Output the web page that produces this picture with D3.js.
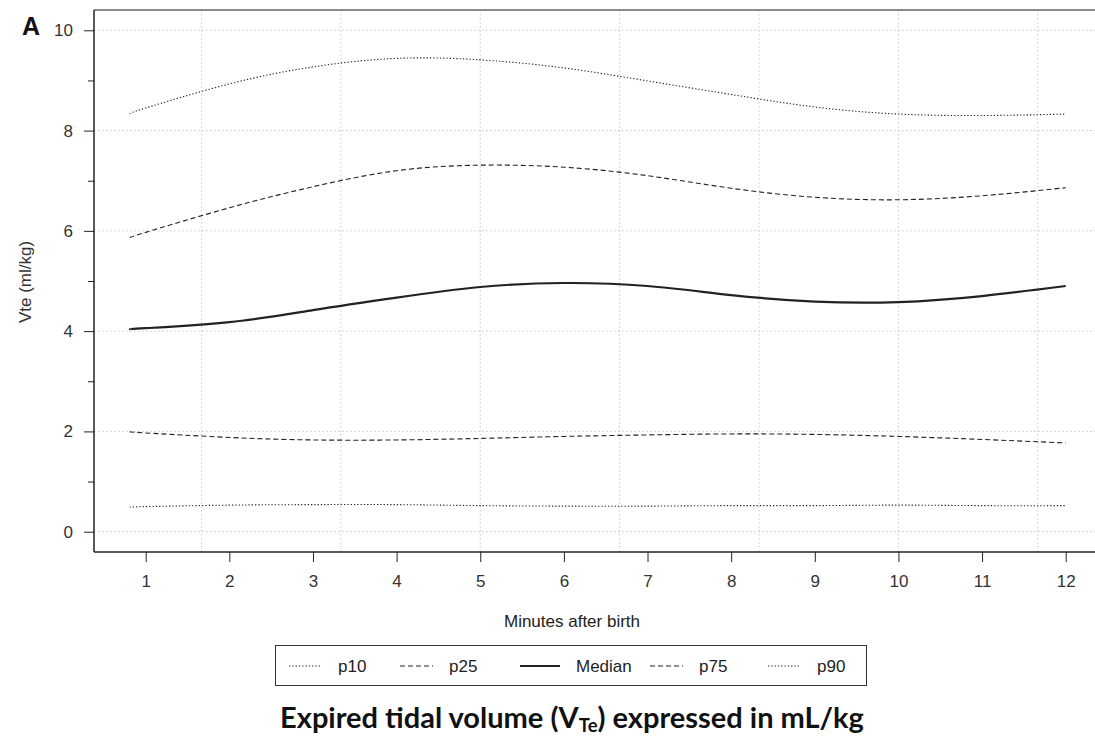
<!DOCTYPE html>
<html>
<head>
<meta charset="utf-8">
<script src="https://cdn.jsdelivr.net/npm/d3@7"></script>
<style>
  body { margin: 0; background: #fff; }
  svg { display: block; }
  svg text { font-family: "Liberation Sans", Arial, sans-serif; }
</style>
</head>
<body>
<svg width="1095" height="744"></svg>
<script>
// minutes after birth at which the curves were read
const minutes = [0.82, 1, 2, 3, 4, 5, 6, 7, 8, 9, 10, 11, 12];
const p90    = [8.34, 8.45, 8.93, 9.27, 9.44, 9.41, 9.25, 8.99, 8.72, 8.47, 8.33, 8.30, 8.33];
const p75    = [5.87, 5.97, 6.46, 6.88, 7.20, 7.31, 7.27, 7.10, 6.85, 6.67, 6.62, 6.70, 6.86];
const median = [4.04, 4.06, 4.18, 4.42, 4.67, 4.88, 4.96, 4.90, 4.72, 4.59, 4.58, 4.70, 4.90];
const p25    = [1.99, 1.97, 1.88, 1.83, 1.83, 1.86, 1.90, 1.93, 1.95, 1.94, 1.90, 1.84, 1.77];
const p10    = [0.49, 0.50, 0.53, 0.54, 0.54, 0.52, 0.51, 0.51, 0.52, 0.52, 0.53, 0.52, 0.52];

const xTicks = [1, 2, 3, 4, 5, 6, 7, 8, 9, 10, 11, 12];
const yTicks = [0, 1, 2, 3, 4, 5, 6, 7, 8, 9, 10];
const gridSeconds = [100, 200, 300, 400, 500, 600, 700];

const seriesNames = ['p10', 'p25', 'Median', 'p75', 'p90'];
const seriesValues = [p10, p25, median, p75, p90];

const svg = d3.select("svg");
const plotLeft = 94, plotTop = 10, plotRight = 1095, plotBottom = 552;
const ink = "#222";
const sans = "Liberation Sans, Arial, sans-serif";

const x = d3.scaleLinear().domain([1, 12]).range([145.7, 1065.7]);
const y = d3.scaleLinear().domain([0, 10]).range([531.7, 30.3]);

function dashFor(name) {
	if (name === 'p10' || name === 'p90') return "1.3,2";
	if (name === 'p25' || name === 'p75') return "5,3";
	return null;
}

// grid
const grid = svg.append("g").attr("stroke", "#c8c8c8").attr("stroke-width", 1).attr("stroke-dasharray", "1.5,2.5");
grid.selectAll("line.h")
	.data(yTicks.filter(d => d % 2 === 0))
	.enter().append("line")
		.attr("x1", plotLeft).attr("x2", plotRight)
		.attr("y1", d => y(d)).attr("y2", d => y(d));
grid.selectAll("line.v")
	.data(gridSeconds)
	.enter().append("line")
		.attr("x1", d => x(d / 60)).attr("x2", d => x(d / 60))
		.attr("y1", plotTop).attr("y2", plotBottom);

// frame
svg.append("line").attr("x1", plotLeft).attr("x2", plotRight).attr("y1", plotTop).attr("y2", plotTop)
	.attr("stroke", "#666").attr("stroke-width", 1.5);

// y axis
const yAxis = svg.append("g")
	.attr("transform", `translate(${plotLeft},0)`)
	.call(d3.axisLeft(y).tickValues(yTicks)
		.tickSize(10).tickPadding(11)
		.tickFormat(d => d % 2 === 0 ? d : ""));
yAxis.select(".domain").attr("d", `M0,${plotTop}V${plotBottom}`).attr("stroke", ink).attr("stroke-width", 1.5);
yAxis.selectAll(".tick line").attr("stroke", ink)
	.attr("x2", d => d % 2 === 0 ? -10 : -6);
yAxis.selectAll(".tick text").attr("font-size", 17).attr("fill", "#333").attr("font-family", sans);

// x axis
const xAxis = svg.append("g")
	.attr("transform", `translate(0,${plotBottom})`)
	.call(d3.axisBottom(x).tickValues(xTicks).tickSize(10).tickPadding(13));
xAxis.select(".domain").attr("d", `M${plotLeft},0H${plotRight}`).attr("stroke", ink).attr("stroke-width", 1.5);
xAxis.selectAll(".tick line").attr("stroke", ink);
xAxis.selectAll(".tick text").attr("font-size", 17).attr("fill", "#333").attr("font-family", sans);

// curves
const line = d3.line()
	.x(d => x(d[0]))
	.y(d => y(d[1]))
	.curve(d3.curveNatural);

svg.append("g").selectAll("path")
	.data(seriesNames)
	.enter().append("path")
		.attr("fill", "none")
		.attr("stroke", ink)
		.attr("stroke-width", d => d === 'Median' ? 2.2 : 1.1)
		.attr("stroke-dasharray", d => dashFor(d))
		.attr("d", (d, i) => line(minutes.map((m, j) => [m, seriesValues[i][j]])));

// labels
svg.append("text").attr("x", 22).attr("y", 35)
	.attr("font-size", 25).attr("font-weight", "bold").attr("fill", "#111").text("A");

svg.append("text")
	.attr("transform", "translate(31,282) rotate(-90)")
	.attr("text-anchor", "middle").attr("font-size", 17).attr("fill", "#333")
	.text("Vte (ml/kg)");

svg.append("text").attr("x", 572).attr("y", 627)
	.attr("text-anchor", "middle").attr("font-size", 17).attr("fill", "#222")
	.text("Minutes after birth");

// legend
const legend = svg.append("g");
legend.append("rect").attr("x", 275.5).attr("y", 645.5).attr("width", 591).attr("height", 40)
	.attr("fill", "#fff").attr("stroke", "#333").attr("stroke-width", 1);
const legendX = [289, 400, 520, 650, 768];
const legendItem = legend.selectAll("g.item")
	.data(seriesNames)
	.enter().append("g")
		.attr("transform", (d, i) => `translate(${legendX[i]},666)`);
legendItem.append("line")
	.attr("x1", 0).attr("x2", d => d === 'Median' ? 40 : 33)
	.attr("stroke", ink)
	.attr("stroke-width", d => d === 'Median' ? 2.2 : 1)
	.attr("stroke-dasharray", d => dashFor(d));
legendItem.append("text")
	.attr("x", d => d === 'Median' ? 56 : 49).attr("y", 6)
	.attr("font-size", 17).attr("fill", "#222")
	.text(d => d);

// caption
const titleFont = "Lato, 'Open Sans', sans-serif";
const caption = svg.append("text")
	.attr("x", 572).attr("y", 728)
	.attr("text-anchor", "middle")
	.attr("font-family", titleFont)
	.attr("font-weight", "bold").attr("font-size", 29).attr("fill", "#111");
caption.append("tspan").attr("font-family", titleFont).text("Expired tidal volume (V");
caption.append("tspan").attr("font-family", titleFont).attr("font-size", 18.5).attr("dy", 4).text("Te");
caption.append("tspan").attr("font-family", titleFont).attr("dy", -4).text(") expressed in mL/kg");
</script>
</body>
</html>
